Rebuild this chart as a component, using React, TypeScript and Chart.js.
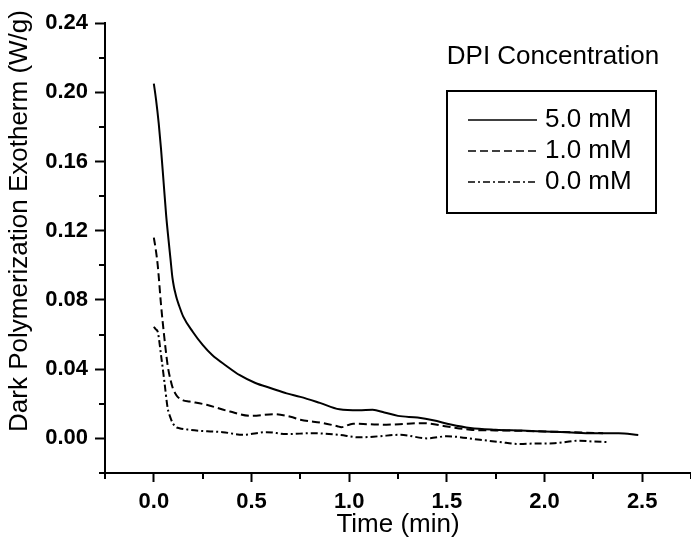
import React, { useEffect, useRef } from "react";
import { Chart, registerables } from "chart.js";

Chart.register(...registerables);

// ---- data ----
const seriesLabels = ["5.0 mM", "1.0 mM", "0.0 mM"];

const time50 = [0, 0.011, 0.025, 0.037, 0.05, 0.063, 0.075, 0.085, 0.095, 0.103, 0.11, 0.118, 0.13, 0.15, 0.2, 0.25, 0.3, 0.37, 0.44, 0.52, 0.6, 0.68, 0.75, 0.85, 0.95, 1.05, 1.12, 1.18, 1.25, 1.35, 1.43, 1.52, 1.62, 1.75, 1.88, 2.0, 2.12, 2.25, 2.38, 2.48];
const val50 = [0.205, 0.196, 0.182, 0.167, 0.148, 0.129, 0.115, 0.104, 0.093, 0.0875, 0.084, 0.0805, 0.0765, 0.0705, 0.0615, 0.054, 0.048, 0.042, 0.0365, 0.032, 0.029, 0.026, 0.024, 0.0205, 0.0168, 0.0162, 0.0165, 0.015, 0.013, 0.012, 0.0105, 0.008, 0.006, 0.005, 0.0045, 0.004, 0.0035, 0.003, 0.003, 0.002];

const time10 = [0, 0.01, 0.02, 0.037, 0.054, 0.071, 0.085, 0.097, 0.11, 0.122, 0.15, 0.182, 0.27, 0.39, 0.5, 0.61, 0.7, 0.75, 0.87, 0.94, 0.96, 1.02, 1.1, 1.19, 1.3, 1.38, 1.5, 1.62, 1.75, 1.88, 2.0, 2.15, 2.3];
const val10 = [0.116, 0.109, 0.1, 0.077, 0.058, 0.042, 0.034, 0.029, 0.026, 0.024, 0.022, 0.0213, 0.0194, 0.0155, 0.013, 0.014, 0.0125, 0.0108, 0.0088, 0.007, 0.0065, 0.0085, 0.0082, 0.0079, 0.0085, 0.0088, 0.0069, 0.005, 0.0046, 0.0044, 0.004, 0.0035, 0.003];

const time00 = [0, 0.01, 0.02, 0.037, 0.054, 0.071, 0.085, 0.097, 0.115, 0.131, 0.18, 0.234, 0.3, 0.353, 0.456, 0.576, 0.68, 0.815, 0.944, 1.055, 1.15, 1.26, 1.4, 1.5, 1.67, 1.77, 1.876, 1.94, 2.05, 2.18, 2.25, 2.32];
const val00 = [0.0645, 0.063, 0.0616, 0.048, 0.0328, 0.0174, 0.012, 0.0088, 0.0065, 0.0059, 0.005, 0.0044, 0.004, 0.0036, 0.0021, 0.0036, 0.0025, 0.003, 0.0021, 0.0006, 0.0012, 0.0021, 0.0, 0.0012, -0.0008, -0.0021, -0.0033, -0.003, -0.0028, -0.0013, -0.0018, -0.0021];

const xTickValues = [0, 0.5, 1.0, 1.5, 2.0, 2.5];
const xMinorValues = [-0.25, 0.25, 0.75, 1.25, 1.75, 2.25, 2.75];
const yTickValues = [0, 0.04, 0.08, 0.12, 0.16, 0.2, 0.24];
const yMinorValues = [-0.02, 0.02, 0.06, 0.1, 0.14, 0.18, 0.22];

const legendTitle = "DPI Concentration";
const xTitle = "Time (min)";
const yTitle = "Dark Polymerization Exotherm (W/g)";

// ---- styles ----
const FONT = "'Liberation Sans', Arial, Helvetica, sans-serif";
const INK = "#000";
const dashes: number[][] = [[], [8, 4], [7, 3, 2, 3]];

const toPoints = (t: number[], v: number[]) => t.map((x, i) => ({ x, y: v[i] }));

const decorPlugin = {
  id: "decor",
  afterDraw(chart: any) {
    const ctx = chart.ctx as CanvasRenderingContext2D;
    const area = chart.chartArea;
    const xs = chart.scales.x;
    const ys = chart.scales.y;
    ctx.save();
    // minor ticks
    ctx.strokeStyle = INK;
    ctx.lineWidth = 2;
    ctx.beginPath();
    yMinorValues.forEach((v) => {
      const py = Math.round(ys.getPixelForValue(v));
      ctx.moveTo(area.left - 6, py);
      ctx.lineTo(area.left, py);
    });
    xMinorValues.forEach((v) => {
      const px = Math.round(xs.getPixelForValue(v));
      ctx.moveTo(px, area.bottom);
      ctx.lineTo(px, area.bottom + 6);
    });
    ctx.stroke();

    // axis titles
    ctx.fillStyle = INK;
    ctx.font = `26px ${FONT}`;
    ctx.textAlign = "center";
    ctx.textBaseline = "middle";
    ctx.fillText(xTitle, (area.left + area.right) / 2, 525);
    ctx.save();
    ctx.translate(20, 221);
    ctx.rotate(-Math.PI / 2);
    ctx.fillText(yTitle, 0, 0);
    ctx.restore();

    // legend
    ctx.fillText(legendTitle, 553, 57);
    ctx.lineWidth = 2;
    ctx.strokeRect(447, 91, 209, 122);
    const rowY = [120, 151, 182];
    chart.data.datasets.forEach((ds: any, i: number) => {
      ctx.save();
      ctx.lineWidth = 1.6;
      ctx.setLineDash(dashes[i]);
      ctx.beginPath();
      ctx.moveTo(468, rowY[i]);
      ctx.lineTo(537, rowY[i]);
      ctx.stroke();
      ctx.restore();
      ctx.textAlign = "left";
      ctx.fillText(ds.label, 545, rowY[i]);
    });
    ctx.restore();
  },
};

export default function App() {
  const ref = useRef<HTMLCanvasElement | null>(null);
  useEffect(() => {
    if (!ref.current) return;
    const series = [toPoints(time50, val50), toPoints(time10, val10), toPoints(time00, val00)];
    const chart = new Chart(ref.current, {
      type: "line",
      data: {
        datasets: series.map((d, i) => ({
          label: seriesLabels[i],
          data: d,
          borderColor: INK,
          borderWidth: 2,
          borderDash: dashes[i],
          pointRadius: 0,
          fill: false,
          cubicInterpolationMode: "monotone" as const,
        })),
      },
      options: {
        animation: false,
        responsive: false,
        devicePixelRatio: 1,
        layout: { padding: { top: 23, right: 0, left: 0, bottom: 0 } },
        plugins: { legend: { display: false }, tooltip: { enabled: false } },
        scales: {
          x: {
            type: "linear",
            min: -0.25,
            max: 2.75,
            afterBuildTicks: (s: any) => {
              s.ticks = xTickValues.map((value) => ({ value }));
            },
            afterFit: (s: any) => {
              s.height = 71;
            },
            border: { display: true, color: INK, width: 2 },
            grid: { display: true, drawOnChartArea: false, drawTicks: true, tickLength: 9, tickWidth: 2, tickColor: INK },
            ticks: {
              color: INK,
              padding: 7,
              maxRotation: 0,
              font: { family: FONT, size: 22, weight: "bold" },
              callback: (v: any) => Number(v).toFixed(1),
            },
          },
          y: {
            type: "linear",
            min: -0.02,
            max: 0.24,
            afterBuildTicks: (s: any) => {
              s.ticks = yTickValues.map((value) => ({ value }));
            },
            afterFit: (s: any) => {
              s.width = 105;
            },
            border: { display: true, color: INK, width: 2 },
            grid: { display: true, drawOnChartArea: false, drawTicks: true, tickLength: 10, tickWidth: 2, tickColor: INK },
            ticks: {
              color: INK,
              padding: 7,
              font: { family: FONT, size: 22, weight: "bold" },
              callback: (v: any) => Number(v).toFixed(2),
            },
          },
        },
      },
      plugins: [decorPlugin],
    });
    return () => chart.destroy();
  }, []);
  return (
    <div style={{ position: "absolute", left: 0, top: 0, width: 691, height: 544, background: "#fff" }}>
      <canvas ref={ref} width={691} height={544} />
    </div>
  );
}
